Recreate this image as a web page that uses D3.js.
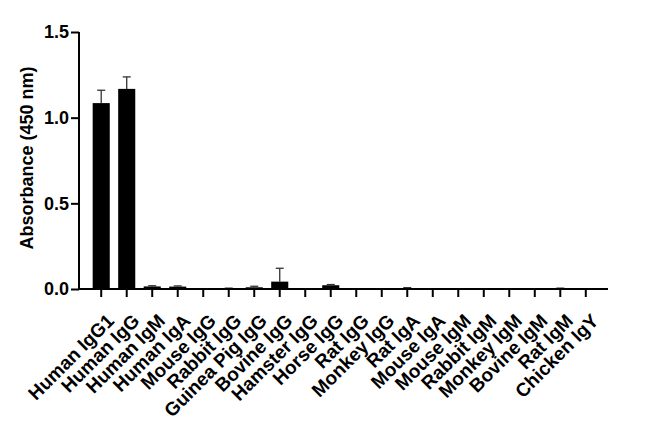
<!DOCTYPE html>
<html>
<head>
<meta charset="utf-8">
<script src="https://cdn.jsdelivr.net/npm/d3@7"></script>
<style>
  body { margin: 0; background: #fff; }
  svg text { font-family: "Liberation Sans", Arial, sans-serif; font-weight: bold; }
</style>
</head>
<body>
<div id="chart"></div>
<script>
// Data
const categories = ['Human IgG1', 'Human IgG', 'Human IgM', 'Human IgA', 'Mouse IgG', 'Rabbit IgG',
    'Guinea Pig IgG', 'Bovine IgG', 'Hamster IgG', 'Horse IgG', 'Rat IgG', 'Monkey IgG', 'Rat IgA',
    'Mouse IgA', 'Mouse IgM', 'Rabbit IgM', 'Monkey IgM', 'Bovine IgM', 'Rat IgM', 'Chicken IgY'];
const means = [1.085, 1.168, 0.015, 0.014, 0, 0.003, 0.01, 0.043, 0, 0.022, 0, 0, 0.004, 0, 0, 0, 0, 0, 0.003, 0];
const errors = [0.075, 0.07, 0.004, 0.004, 0, 0.002, 0.006, 0.078, 0, 0.004, 0, 0, 0.004, 0, 0, 0, 0, 0, 0.002, 0];
const yTicks = [0, 0.5, 1.0, 1.5];

const chart = {
    width: 650,
    height: 422,
    margin: { top: 32, left: 79, right: 42, bottom: 133 },

    init: function() {
        const m = chart.margin;
        const svg = d3.select('#chart').append('svg')
            .attr('width', chart.width)
            .attr('height', chart.height);

        const x = d3.scaleBand()
            .domain(categories)
            .range([m.left + 5, chart.width - m.right - 5])
            .paddingInner(0.33)
            .paddingOuter(0.34);

        const y = d3.scaleLinear()
            .domain([0, 1.5])
            .range([chart.height - m.bottom, m.top]);

        const g = svg.append('g');

        // Bars
        g.selectAll('rect.bar')
            .data(categories)
            .enter().append('rect')
                .attr('class', 'bar')
                .attr('x', d => x(d))
                .attr('width', x.bandwidth())
                .attr('y', (d, i) => y(means[i]))
                .attr('height', (d, i) => y(0) - y(means[i]))
                .attr('fill', '#000');

        // Error bars (upper only)
        const cap = 4;
        const err = g.selectAll('g.err')
            .data(categories.filter((d, i) => errors[i] > 0))
            .enter().append('g')
                .attr('class', 'err');
        err.append('line')
            .attr('x1', d => x(d) + x.bandwidth() / 2)
            .attr('x2', d => x(d) + x.bandwidth() / 2)
            .attr('y1', d => y(means[categories.indexOf(d)]))
            .attr('y2', d => { const i = categories.indexOf(d); return y(means[i] + errors[i]); })
            .attr('stroke', '#333')
            .attr('stroke-width', 1.3);
        err.append('line')
            .attr('x1', d => x(d) + x.bandwidth() / 2 - cap)
            .attr('x2', d => x(d) + x.bandwidth() / 2 + cap)
            .attr('y1', d => { const i = categories.indexOf(d); return y(means[i] + errors[i]); })
            .attr('y2', d => { const i = categories.indexOf(d); return y(means[i] + errors[i]); })
            .attr('stroke', '#333')
            .attr('stroke-width', 1.3);

        // Y axis
        const yAxis = g.append('g')
            .attr('transform', `translate(${m.left},0)`)
            .call(d3.axisLeft(y).tickValues(yTicks).tickFormat(d3.format('.1f')).tickSize(8).tickPadding(2));
        yAxis.selectAll('path, line').attr('stroke', '#000').attr('stroke-width', 2);
        yAxis.select('.domain').attr('d', `M0,${y(1.5)}V${y(0)}`);
        yAxis.selectAll('text')
            .attr('font-size', 18)
            .attr('fill', '#000');

        // X axis
        const xAxis = g.append('g')
            .attr('transform', `translate(0,${y(0)})`)
            .call(d3.axisBottom(x).tickSize(8).tickSizeOuter(0));
        xAxis.selectAll('path, line').attr('stroke', '#000').attr('stroke-width', 2);
        xAxis.select('.domain').attr('d', `M${m.left},0H${chart.width - m.right}`);
        xAxis.selectAll('text')
            .attr('font-size', 19)
            .attr('fill', '#000')
            .attr('text-anchor', 'end')
            .attr('dy', null)
            .attr('y', 0)
            .attr('transform', 'translate(14,33) rotate(-45)');

        // Y title
        svg.append('text')
            .attr('transform', `translate(33,158) rotate(-90)`)
            .attr('text-anchor', 'middle')
            .attr('font-size', 18)
            .attr('fill', '#000')
            .text('Absorbance (450 nm)');
    }
};

document.addEventListener('DOMContentLoaded', chart.init);
</script>
</body>
</html>
